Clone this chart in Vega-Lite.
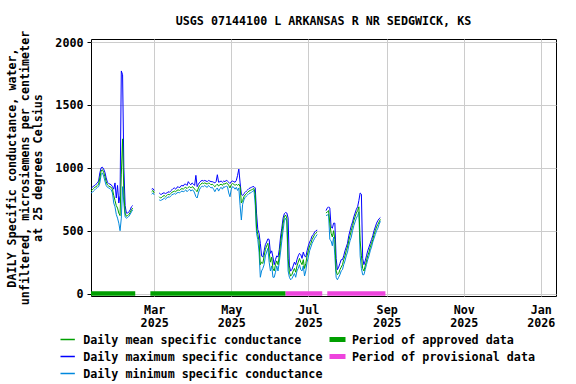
{
  "$schema": "https://vega.github.io/schema/vega-lite/v6.json",
  "width": 465,
  "height": 257,
  "autosize": {"type": "none"},
  "padding": {"left": 91, "top": 39, "right": 20, "bottom": 88},
  "background": "white",
  "title": {
    "text": "USGS 07144100 L ARKANSAS R NR SEDGWICK, KS",
    "anchor": "middle",
    "frame": "group",
    "baseline": "bottom",
    "offset": -8,
    "font": "DejaVu Sans Mono",
    "fontSize": 11.7,
    "fontWeight": "bold",
    "color": "black"
  },
  "config": {
    "font": "DejaVu Sans Mono",
    "view": {"stroke": "black", "strokeWidth": 1},
    "axis": {
      "labelFont": "DejaVu Sans Mono",
      "labelFontSize": 11.7,
      "labelFontWeight": "bold",
      "labelColor": "black",
      "titleFont": "DejaVu Sans Mono",
      "titleFontSize": 11.7,
      "titleFontWeight": "bold",
      "titleColor": "black",
      "gridColor": "#cccccc",
      "gridWidth": 1,
      "gridOpacity": 1,
      "domain": false,
      "tickColor": "black"
    },
    "legend": {
      "labelFont": "DejaVu Sans Mono",
      "labelFontSize": 11.7,
      "labelFontWeight": "bold",
      "labelColor": "black",
      "labelLimit": 0,
      "padding": 0,
      "title": null
    }
  },
  "datasets": {
    "daily": [
      {"d": "2025-01-10", "s": 1, "mean": 815, "max": 835, "min": 800},
      {"d": "2025-01-11", "s": 1, "mean": 825, "max": 845, "min": 805},
      {"d": "2025-01-12", "s": 1, "mean": 835, "max": 855, "min": 815},
      {"d": "2025-01-13", "s": 1, "mean": 845, "max": 860, "min": 825},
      {"d": "2025-01-14", "s": 1, "mean": 850, "max": 870, "min": 835},
      {"d": "2025-01-15", "s": 1, "mean": 860, "max": 880, "min": 845},
      {"d": "2025-01-16", "s": 1, "mean": 870, "max": 895, "min": 850},
      {"d": "2025-01-17", "s": 1, "mean": 920, "max": 960, "min": 880},
      {"d": "2025-01-18", "s": 1, "mean": 975, "max": 1000, "min": 945},
      {"d": "2025-01-19", "s": 1, "mean": 985, "max": 1005, "min": 960},
      {"d": "2025-01-20", "s": 1, "mean": 965, "max": 990, "min": 935},
      {"d": "2025-01-21", "s": 1, "mean": 930, "max": 965, "min": 895},
      {"d": "2025-01-22", "s": 1, "mean": 890, "max": 920, "min": 860},
      {"d": "2025-01-23", "s": 1, "mean": 865, "max": 885, "min": 845},
      {"d": "2025-01-24", "s": 1, "mean": 855, "max": 875, "min": 840},
      {"d": "2025-01-25", "s": 1, "mean": 850, "max": 870, "min": 835},
      {"d": "2025-01-26", "s": 1, "mean": 845, "max": 865, "min": 825},
      {"d": "2025-01-27", "s": 1, "mean": 830, "max": 850, "min": 800},
      {"d": "2025-01-28", "s": 1, "mean": 780, "max": 830, "min": 720},
      {"d": "2025-01-29", "s": 1, "mean": 740, "max": 880, "min": 690},
      {"d": "2025-01-30", "s": 1, "mean": 700, "max": 760, "min": 630},
      {"d": "2025-01-31", "s": 1, "mean": 680, "max": 860, "min": 600},
      {"d": "2025-02-01", "s": 1, "mean": 640, "max": 720, "min": 560},
      {"d": "2025-02-02", "s": 1, "mean": 620, "max": 780, "min": 500},
      {"d": "2025-02-03", "s": 1, "mean": 950, "max": 1770, "min": 600},
      {"d": "2025-02-04", "s": 1, "mean": 1230, "max": 1740, "min": 850},
      {"d": "2025-02-05", "s": 1, "mean": 800, "max": 1000, "min": 720},
      {"d": "2025-02-06", "s": 1, "mean": 640, "max": 700, "min": 610},
      {"d": "2025-02-07", "s": 1, "mean": 615, "max": 640, "min": 600},
      {"d": "2025-02-08", "s": 1, "mean": 620, "max": 640, "min": 605},
      {"d": "2025-02-09", "s": 1, "mean": 630, "max": 650, "min": 615},
      {"d": "2025-02-10", "s": 1, "mean": 645, "max": 665, "min": 630},
      {"d": "2025-02-11", "s": 1, "mean": 665, "max": 690, "min": 650},
      {"d": "2025-02-12", "s": 1, "mean": 680, "max": 700, "min": 665},
      {"d": "2025-02-27", "s": 2, "mean": 810, "max": 830, "min": 790},
      {"d": "2025-02-28", "s": 2, "mean": 820, "max": 835, "min": 800},
      {"d": "2025-03-01", "s": 2, "mean": 800, "max": 820, "min": 785},
      {"d": "2025-03-05", "s": 3, "mean": 770, "max": 800, "min": 745},
      {"d": "2025-03-06", "s": 3, "mean": 760, "max": 790, "min": 740},
      {"d": "2025-03-07", "s": 3, "mean": 765, "max": 790, "min": 745},
      {"d": "2025-03-08", "s": 3, "mean": 775, "max": 800, "min": 750},
      {"d": "2025-03-09", "s": 3, "mean": 780, "max": 800, "min": 760},
      {"d": "2025-03-10", "s": 3, "mean": 770, "max": 795, "min": 750},
      {"d": "2025-03-11", "s": 3, "mean": 780, "max": 800, "min": 760},
      {"d": "2025-03-12", "s": 3, "mean": 790, "max": 810, "min": 770},
      {"d": "2025-03-13", "s": 3, "mean": 785, "max": 805, "min": 765},
      {"d": "2025-03-14", "s": 3, "mean": 795, "max": 815, "min": 775},
      {"d": "2025-03-15", "s": 3, "mean": 805, "max": 825, "min": 785},
      {"d": "2025-03-16", "s": 3, "mean": 810, "max": 835, "min": 790},
      {"d": "2025-03-17", "s": 3, "mean": 815, "max": 840, "min": 795},
      {"d": "2025-03-18", "s": 3, "mean": 810, "max": 830, "min": 790},
      {"d": "2025-03-19", "s": 3, "mean": 820, "max": 845, "min": 800},
      {"d": "2025-03-20", "s": 3, "mean": 825, "max": 850, "min": 805},
      {"d": "2025-03-21", "s": 3, "mean": 820, "max": 840, "min": 800},
      {"d": "2025-03-22", "s": 3, "mean": 830, "max": 855, "min": 810},
      {"d": "2025-03-23", "s": 3, "mean": 835, "max": 860, "min": 815},
      {"d": "2025-03-24", "s": 3, "mean": 830, "max": 855, "min": 810},
      {"d": "2025-03-25", "s": 3, "mean": 840, "max": 870, "min": 815},
      {"d": "2025-03-26", "s": 3, "mean": 845, "max": 870, "min": 825},
      {"d": "2025-03-27", "s": 3, "mean": 835, "max": 860, "min": 810},
      {"d": "2025-03-28", "s": 3, "mean": 845, "max": 890, "min": 820},
      {"d": "2025-03-29", "s": 3, "mean": 850, "max": 875, "min": 830},
      {"d": "2025-03-30", "s": 3, "mean": 840, "max": 865, "min": 815},
      {"d": "2025-03-31", "s": 3, "mean": 850, "max": 880, "min": 825},
      {"d": "2025-04-01", "s": 3, "mean": 845, "max": 870, "min": 820},
      {"d": "2025-04-02", "s": 3, "mean": 830, "max": 860, "min": 800},
      {"d": "2025-04-03", "s": 3, "mean": 820, "max": 940, "min": 770},
      {"d": "2025-04-04", "s": 3, "mean": 810, "max": 850, "min": 760},
      {"d": "2025-04-05", "s": 3, "mean": 840, "max": 870, "min": 800},
      {"d": "2025-04-06", "s": 3, "mean": 860, "max": 885, "min": 830},
      {"d": "2025-04-07", "s": 3, "mean": 870, "max": 895, "min": 845},
      {"d": "2025-04-08", "s": 3, "mean": 880, "max": 900, "min": 855},
      {"d": "2025-04-09", "s": 3, "mean": 875, "max": 895, "min": 850},
      {"d": "2025-04-10", "s": 3, "mean": 880, "max": 900, "min": 860},
      {"d": "2025-04-11", "s": 3, "mean": 875, "max": 895, "min": 850},
      {"d": "2025-04-12", "s": 3, "mean": 870, "max": 890, "min": 845},
      {"d": "2025-04-13", "s": 3, "mean": 880, "max": 900, "min": 860},
      {"d": "2025-04-14", "s": 3, "mean": 875, "max": 895, "min": 850},
      {"d": "2025-04-15", "s": 3, "mean": 865, "max": 890, "min": 840},
      {"d": "2025-04-16", "s": 3, "mean": 870, "max": 890, "min": 845},
      {"d": "2025-04-17", "s": 3, "mean": 860, "max": 885, "min": 830},
      {"d": "2025-04-18", "s": 3, "mean": 850, "max": 880, "min": 810},
      {"d": "2025-04-19", "s": 3, "mean": 860, "max": 890, "min": 830},
      {"d": "2025-04-20", "s": 3, "mean": 870, "max": 945, "min": 840},
      {"d": "2025-04-21", "s": 3, "mean": 855, "max": 885, "min": 815},
      {"d": "2025-04-22", "s": 3, "mean": 865, "max": 890, "min": 835},
      {"d": "2025-04-23", "s": 3, "mean": 870, "max": 895, "min": 845},
      {"d": "2025-04-24", "s": 3, "mean": 860, "max": 885, "min": 830},
      {"d": "2025-04-25", "s": 3, "mean": 875, "max": 895, "min": 850},
      {"d": "2025-04-26", "s": 3, "mean": 870, "max": 890, "min": 845},
      {"d": "2025-04-27", "s": 3, "mean": 880, "max": 900, "min": 855},
      {"d": "2025-04-28", "s": 3, "mean": 875, "max": 895, "min": 850},
      {"d": "2025-04-29", "s": 3, "mean": 860, "max": 885, "min": 800},
      {"d": "2025-04-30", "s": 3, "mean": 840, "max": 875, "min": 770},
      {"d": "2025-05-01", "s": 3, "mean": 865, "max": 890, "min": 830},
      {"d": "2025-05-02", "s": 3, "mean": 875, "max": 895, "min": 850},
      {"d": "2025-05-03", "s": 3, "mean": 870, "max": 890, "min": 845},
      {"d": "2025-05-04", "s": 3, "mean": 860, "max": 885, "min": 830},
      {"d": "2025-05-05", "s": 3, "mean": 870, "max": 900, "min": 845},
      {"d": "2025-05-06", "s": 3, "mean": 860, "max": 940, "min": 820},
      {"d": "2025-05-07", "s": 3, "mean": 870, "max": 990, "min": 840},
      {"d": "2025-05-08", "s": 3, "mean": 850, "max": 880, "min": 700},
      {"d": "2025-05-09", "s": 3, "mean": 720, "max": 790, "min": 585},
      {"d": "2025-05-10", "s": 3, "mean": 740, "max": 780, "min": 710},
      {"d": "2025-05-11", "s": 3, "mean": 770, "max": 795, "min": 745},
      {"d": "2025-05-12", "s": 3, "mean": 785, "max": 805, "min": 765},
      {"d": "2025-05-13", "s": 3, "mean": 795, "max": 815, "min": 775},
      {"d": "2025-05-14", "s": 3, "mean": 805, "max": 825, "min": 785},
      {"d": "2025-05-15", "s": 3, "mean": 815, "max": 835, "min": 795},
      {"d": "2025-05-16", "s": 3, "mean": 820, "max": 840, "min": 800},
      {"d": "2025-05-17", "s": 3, "mean": 825, "max": 845, "min": 805},
      {"d": "2025-05-18", "s": 3, "mean": 830, "max": 850, "min": 815},
      {"d": "2025-05-19", "s": 3, "mean": 835, "max": 850, "min": 820},
      {"d": "2025-05-20", "s": 3, "mean": 790, "max": 840, "min": 700},
      {"d": "2025-05-21", "s": 3, "mean": 520, "max": 640, "min": 480},
      {"d": "2025-05-22", "s": 3, "mean": 470, "max": 510, "min": 430},
      {"d": "2025-05-23", "s": 3, "mean": 420, "max": 480, "min": 330},
      {"d": "2025-05-24", "s": 3, "mean": 230, "max": 400, "min": 130},
      {"d": "2025-05-25", "s": 3, "mean": 250, "max": 300, "min": 180},
      {"d": "2025-05-26", "s": 3, "mean": 240, "max": 290, "min": 200},
      {"d": "2025-05-27", "s": 3, "mean": 300, "max": 340, "min": 230},
      {"d": "2025-05-28", "s": 3, "mean": 350, "max": 390, "min": 300},
      {"d": "2025-05-29", "s": 3, "mean": 380, "max": 410, "min": 330},
      {"d": "2025-05-30", "s": 3, "mean": 400, "max": 435, "min": 360},
      {"d": "2025-05-31", "s": 3, "mean": 330, "max": 430, "min": 250},
      {"d": "2025-06-01", "s": 3, "mean": 250, "max": 320, "min": 180},
      {"d": "2025-06-02", "s": 3, "mean": 290, "max": 340, "min": 220},
      {"d": "2025-06-03", "s": 3, "mean": 200, "max": 290, "min": 130},
      {"d": "2025-06-04", "s": 3, "mean": 180, "max": 230, "min": 130},
      {"d": "2025-06-05", "s": 3, "mean": 230, "max": 270, "min": 170},
      {"d": "2025-06-06", "s": 3, "mean": 260, "max": 300, "min": 220},
      {"d": "2025-06-07", "s": 3, "mean": 230, "max": 290, "min": 180},
      {"d": "2025-06-08", "s": 3, "mean": 300, "max": 350, "min": 250},
      {"d": "2025-06-09", "s": 3, "mean": 400, "max": 450, "min": 330},
      {"d": "2025-06-10", "s": 3, "mean": 480, "max": 520, "min": 420},
      {"d": "2025-06-11", "s": 3, "mean": 560, "max": 600, "min": 500},
      {"d": "2025-06-12", "s": 3, "mean": 610, "max": 635, "min": 580},
      {"d": "2025-06-13", "s": 3, "mean": 625, "max": 645, "min": 600},
      {"d": "2025-06-14", "s": 3, "mean": 600, "max": 640, "min": 570},
      {"d": "2025-06-15", "s": 3, "mean": 280, "max": 600, "min": 180},
      {"d": "2025-06-16", "s": 3, "mean": 170, "max": 220, "min": 130},
      {"d": "2025-06-17", "s": 3, "mean": 140, "max": 180, "min": 110},
      {"d": "2025-06-18", "s": 3, "mean": 150, "max": 190, "min": 120},
      {"d": "2025-06-19", "s": 3, "mean": 180, "max": 220, "min": 140},
      {"d": "2025-06-20", "s": 3, "mean": 200, "max": 250, "min": 160},
      {"d": "2025-06-21", "s": 3, "mean": 170, "max": 230, "min": 130},
      {"d": "2025-06-22", "s": 3, "mean": 220, "max": 270, "min": 180},
      {"d": "2025-06-23", "s": 3, "mean": 250, "max": 300, "min": 200},
      {"d": "2025-06-24", "s": 3, "mean": 280, "max": 320, "min": 230},
      {"d": "2025-06-25", "s": 3, "mean": 250, "max": 310, "min": 190},
      {"d": "2025-06-26", "s": 3, "mean": 230, "max": 280, "min": 180},
      {"d": "2025-06-27", "s": 3, "mean": 270, "max": 330, "min": 220},
      {"d": "2025-06-28", "s": 3, "mean": 200, "max": 300, "min": 140},
      {"d": "2025-06-29", "s": 3, "mean": 240, "max": 290, "min": 180},
      {"d": "2025-06-30", "s": 3, "mean": 300, "max": 340, "min": 250},
      {"d": "2025-07-01", "s": 3, "mean": 340, "max": 380, "min": 290},
      {"d": "2025-07-02", "s": 3, "mean": 380, "max": 410, "min": 340},
      {"d": "2025-07-03", "s": 3, "mean": 400, "max": 430, "min": 370},
      {"d": "2025-07-04", "s": 3, "mean": 430, "max": 460, "min": 400},
      {"d": "2025-07-05", "s": 3, "mean": 450, "max": 470, "min": 420},
      {"d": "2025-07-06", "s": 3, "mean": 470, "max": 490, "min": 440},
      {"d": "2025-07-07", "s": 3, "mean": 480, "max": 500, "min": 455},
      {"d": "2025-07-08", "s": 3, "mean": 490, "max": 505, "min": 470},
      {"d": "2025-07-15", "s": 4, "mean": 640, "max": 660, "min": 620},
      {"d": "2025-07-16", "s": 4, "mean": 650, "max": 680, "min": 625},
      {"d": "2025-07-17", "s": 4, "mean": 660, "max": 690, "min": 630},
      {"d": "2025-07-18", "s": 4, "mean": 560, "max": 680, "min": 430},
      {"d": "2025-07-19", "s": 4, "mean": 480, "max": 530, "min": 420},
      {"d": "2025-07-20", "s": 4, "mean": 450, "max": 520, "min": 380},
      {"d": "2025-07-21", "s": 4, "mean": 500, "max": 560, "min": 450},
      {"d": "2025-07-22", "s": 4, "mean": 430, "max": 560, "min": 300},
      {"d": "2025-07-23", "s": 4, "mean": 180, "max": 280, "min": 130},
      {"d": "2025-07-24", "s": 4, "mean": 150, "max": 190, "min": 110},
      {"d": "2025-07-25", "s": 4, "mean": 160, "max": 210, "min": 130},
      {"d": "2025-07-26", "s": 4, "mean": 190, "max": 240, "min": 150},
      {"d": "2025-07-27", "s": 4, "mean": 210, "max": 270, "min": 180},
      {"d": "2025-07-28", "s": 4, "mean": 230, "max": 270, "min": 190},
      {"d": "2025-07-29", "s": 4, "mean": 270, "max": 300, "min": 230},
      {"d": "2025-07-30", "s": 4, "mean": 300, "max": 340, "min": 260},
      {"d": "2025-07-31", "s": 4, "mean": 340, "max": 370, "min": 300},
      {"d": "2025-08-01", "s": 4, "mean": 370, "max": 400, "min": 330},
      {"d": "2025-08-02", "s": 4, "mean": 420, "max": 460, "min": 380},
      {"d": "2025-08-03", "s": 4, "mean": 460, "max": 500, "min": 420},
      {"d": "2025-08-04", "s": 4, "mean": 500, "max": 540, "min": 450},
      {"d": "2025-08-05", "s": 4, "mean": 540, "max": 570, "min": 500},
      {"d": "2025-08-06", "s": 4, "mean": 580, "max": 610, "min": 540},
      {"d": "2025-08-07", "s": 4, "mean": 610, "max": 640, "min": 570},
      {"d": "2025-08-08", "s": 4, "mean": 640, "max": 670, "min": 600},
      {"d": "2025-08-09", "s": 4, "mean": 660, "max": 690, "min": 620},
      {"d": "2025-08-10", "s": 4, "mean": 690, "max": 740, "min": 650},
      {"d": "2025-08-11", "s": 4, "mean": 420, "max": 800, "min": 300},
      {"d": "2025-08-12", "s": 4, "mean": 300, "max": 790, "min": 200},
      {"d": "2025-08-13", "s": 4, "mean": 200, "max": 280, "min": 150},
      {"d": "2025-08-14", "s": 4, "mean": 180, "max": 230, "min": 150},
      {"d": "2025-08-15", "s": 4, "mean": 220, "max": 260, "min": 190},
      {"d": "2025-08-16", "s": 4, "mean": 260, "max": 300, "min": 230},
      {"d": "2025-08-17", "s": 4, "mean": 300, "max": 340, "min": 270},
      {"d": "2025-08-18", "s": 4, "mean": 330, "max": 370, "min": 300},
      {"d": "2025-08-19", "s": 4, "mean": 370, "max": 400, "min": 340},
      {"d": "2025-08-20", "s": 4, "mean": 400, "max": 430, "min": 370},
      {"d": "2025-08-21", "s": 4, "mean": 430, "max": 460, "min": 410},
      {"d": "2025-08-22", "s": 4, "mean": 470, "max": 500, "min": 440},
      {"d": "2025-08-23", "s": 4, "mean": 500, "max": 530, "min": 470},
      {"d": "2025-08-24", "s": 4, "mean": 530, "max": 560, "min": 500},
      {"d": "2025-08-25", "s": 4, "mean": 550, "max": 580, "min": 520},
      {"d": "2025-08-26", "s": 4, "mean": 570, "max": 595, "min": 550},
      {"d": "2025-08-27", "s": 4, "mean": 590, "max": 605, "min": 575}
    ],
    "periods": [
      {"period": "approved", "start": "2025-01-10", "end": "2025-02-14"},
      {"period": "approved", "start": "2025-02-26", "end": "2025-06-13"},
      {"period": "provisional", "start": "2025-06-13", "end": "2025-07-12"},
      {"period": "provisional", "start": "2025-07-16", "end": "2025-08-31"}
    ]
  },
  "layer": [
    {
      "data": {"name": "daily"},
      "transform": [{"fold": ["max", "min", "mean"], "as": ["series", "value"]}],
      "mark": {"type": "line", "strokeWidth": 1, "clip": true},
      "encoding": {
        "x": {
          "field": "d",
          "type": "temporal",
          "scale": {"type": "utc", "domain": [{"year": 2025, "month": 1, "date": 10, "utc": true}, {"year": 2026, "month": 1, "date": 13, "utc": true}]},
          "axis": {
            "title": null,
            "values": [
              {"year": 2025, "month": 3, "date": 1, "utc": true},
              {"year": 2025, "month": 5, "date": 1, "utc": true},
              {"year": 2025, "month": 7, "date": 1, "utc": true},
              {"year": 2025, "month": 9, "date": 1, "utc": true},
              {"year": 2025, "month": 11, "date": 1, "utc": true},
              {"year": 2026, "month": 1, "date": 1, "utc": true}
            ],
            "labelExpr": "[utcFormat(datum.value, '%b'), utcFormat(datum.value, '%Y')]",
            "labelLineHeight": 13,
            "ticks": false,
            "labelPadding": 8,
            "grid": true
          }
        },
        "y": {
          "field": "value",
          "type": "quantitative",
          "scale": {"domain": [-19, 2024], "nice": false, "zero": false},
          "axis": {
            "values": [0, 500, 1000, 1500, 2000],
            "format": "d",
            "grid": true,
            "tickSize": 4,
            "labelPadding": 4,
            "title": ["DAILY Specific conductance, water,", "unfiltered, microsiemens per centimeter", "at 25 degrees Celsius"],
            "titleLineHeight": 13,
            "titlePadding": 11
          }
        },
        "detail": {"field": "s", "type": "nominal"},
        "color": {
          "field": "series",
          "type": "nominal",
          "scale": {"domain": ["mean", "max", "min"], "range": ["#00a000", "#0000ff", "#0088dd"]},
          "legend": {
            "orient": "none",
            "legendX": -30.5,
            "legendY": 294,
            "direction": "vertical",
            "symbolType": "M-2,0H2",
            "symbolSize": 72.25,
            "symbolStrokeWidth": 1.5,
            "labelOffset": 11,
            "clipHeight": 13,
            "rowPadding": 3,
            "labelExpr": "datum.label == 'mean' ? 'Daily mean specific conductance' : datum.label == 'max' ? 'Daily maximum specific conductance' : 'Daily minimum specific conductance'"
          }
        }
      }
    },
    {
      "data": {"name": "periods"},
      "mark": {"type": "rule", "strokeWidth": 4.5},
      "encoding": {
        "x": {"field": "start", "type": "temporal", "scale": {"type": "utc", "domain": [{"year": 2025, "month": 1, "date": 10, "utc": true}, {"year": 2026, "month": 1, "date": 13, "utc": true}]}},
        "x2": {"field": "end"},
        "y": {"datum": 0},
        "color": {
          "field": "period",
          "type": "nominal",
          "scale": {"domain": ["approved", "provisional"], "range": ["#009f00", "#ee44dd"]},
          "legend": {
            "orient": "none",
            "legendX": 238.5,
            "legendY": 294,
            "direction": "vertical",
            "symbolType": "M-2,0H2",
            "symbolSize": 81,
            "symbolStrokeWidth": 5,
            "labelOffset": 8.5,
            "clipHeight": 13,
            "rowPadding": 3,
            "labelExpr": "datum.label == 'approved' ? 'Period of approved data' : 'Period of provisional data'"
          }
        }
      }
    }
  ],
  "resolve": {"scale": {"color": "independent"}, "legend": {"color": "independent"}}
}
